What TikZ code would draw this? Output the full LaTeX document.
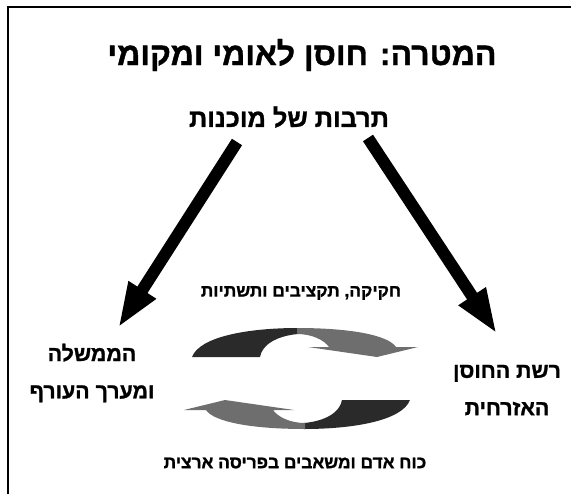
\documentclass[tikz,border=0pt]{standalone}
\usepackage{fontspec}
\usetikzlibrary{arrows.meta}
\TeXXeTstate=1
\newfontfamily\hebfont[Script=Hebrew, BoldFeatures={FakeBold=1.2}]{Liberation Sans}
\definecolor{darkband}{HTML}{2A2A2A}
\definecolor{lightband}{HTML}{6E6E6E}
\begin{document}
\begin{tikzpicture}[x=0.75pt,y=-0.75pt,
  heb/.style={font=\hebfont\bfseries, inner sep=0pt, align=center},
  bigarrow/.style={line width=9pt, -{Triangle[length=34pt,width=22pt]}},
  frameline/.style={line width=1.6pt, line cap=rect}]
\useasboundingbox (0,0) rectangle (571,493);
\draw[frameline] (571,7) -- (8,7) -- (8,493);
% texts
\node[heb, font=\hebfont\bfseries\fontsize{24}{28}\selectfont] (title) at (302,55) {\beginR המטרה: חוסן לאומי ומקומי\endR};
\node[heb, font=\hebfont\bfseries\fontsize{19}{22}\selectfont] (sub) at (289,117) {\beginR תרבות של מוכנות\endR};
\node[heb, font=\hebfont\bfseries\fontsize{16}{28}\selectfont] (gov) at (92,373) {\beginR הממשלה\endR\\\beginR ומערך העורף\endR};
\node[heb, font=\hebfont\bfseries\fontsize{16}{28}\selectfont] (civ) at (507,390) {\beginR רשת החוסן\endR\\\beginR האזרחית\endR};
\node[heb, font=\hebfont\bfseries\fontsize{13}{15}\selectfont] (law) at (301,293) {\beginR חקיקה, תקציבים ותשתיות\endR};
\node[heb, font=\hebfont\bfseries\fontsize{13}{15}\selectfont] (res) at (295,463) {\beginR כוח אדם ומשאבים בפריסה ארצית\endR};
% big arrows
\coordinate (la1) at (237,142);
\coordinate (la2) at (118,328);
\coordinate (ra1) at (368,138);
\coordinate (ra2) at (497,334);
\draw[bigarrow] (la1) -- (la2);
\draw[bigarrow] (ra1) -- (ra2);
% cycle arrows
\foreach \rot in {0,180}{
\begin{scope}[rotate around={\rot:(301,378.5)}]
\fill[darkband] (192,357) .. controls (200,336) and (250,328) .. (298,328)
  -- (298,334) .. controls (276,336) and (262,345) .. (260,357) -- cycle;
\fill[lightband] (297,328) .. controls (350,328) and (388,335) .. (396,347)
  -- (418,347) -- (377,357) -- (308,347) -- (329,347)
  .. controls (324,340) and (312,334) .. (297,334) -- cycle;
\end{scope}
}
\end{tikzpicture}
\end{document}
